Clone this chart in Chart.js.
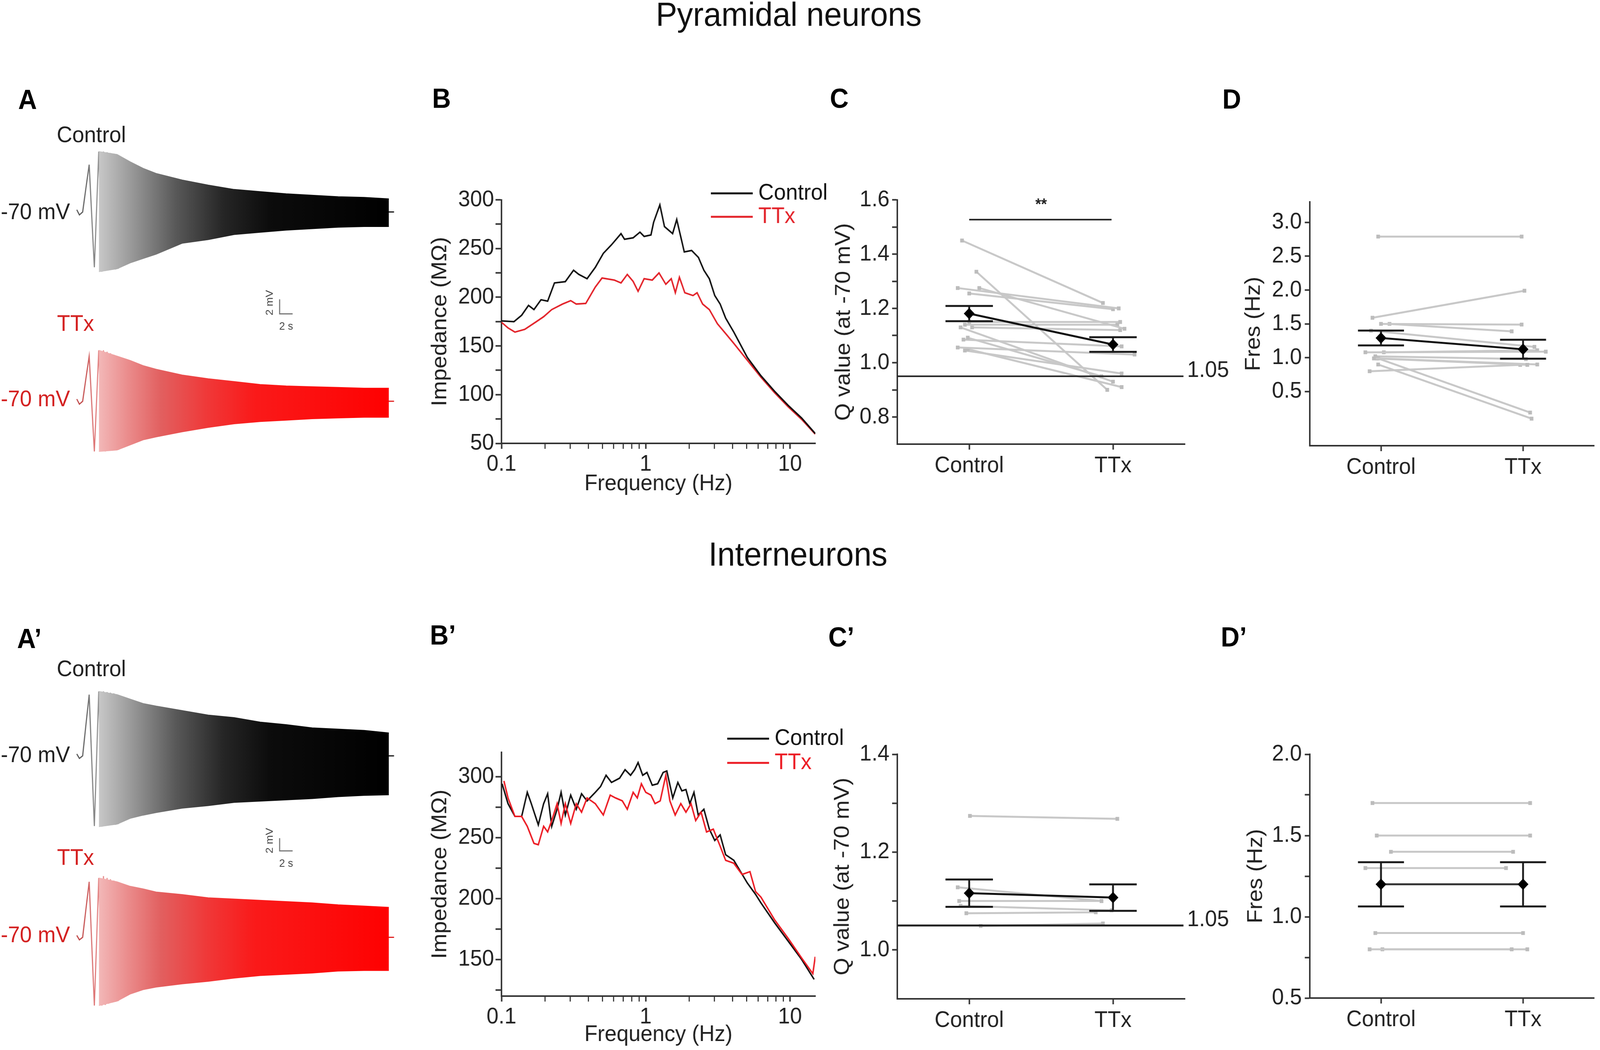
<!DOCTYPE html>
<html>
<head>
<meta charset="utf-8">
<title>Pyramidal neurons / Interneurons</title>
<script src="https://cdn.jsdelivr.net/npm/chart.js@4.4.1/dist/chart.umd.min.js"></script>
<style>
  html, body { margin: 0; padding: 0; background: #fff; overflow: hidden; }
  body { font-family: "Liberation Sans", Arial, sans-serif; color: #222; }
  #fig { position: absolute; left: 0; top: 0; width: 4317px; height: 2688px; transform-origin: 0 0; background: #fff; }
  canvas { position: absolute; }
  .lbl { position: absolute; white-space: nowrap; line-height: 1; font-size: 58px; transform: translateY(-50%); }
  .ttl { position: absolute; white-space: nowrap; line-height: 1; font-size: 86px; transform: translate(-50%, -50%); color: #111; }
  .pl { position: absolute; white-space: nowrap; line-height: 1; font-size: 70px; font-weight: bold; color: #000; transform: translateY(-50%); }
  .red { color: #d42222; }
</style>
</head>
<body>
<div id="fig">

<div class="ttl" style="left:2128px;top:36px">Pyramidal neurons</div>
<div class="ttl" style="left:2153px;top:1418px">Interneurons</div>

<div class="pl" style="left:49px;top:255px">A</div>
<div class="pl" style="left:1166px;top:252px">B</div>
<div class="pl" style="left:2239px;top:252px">C</div>
<div class="pl" style="left:3298px;top:254px">D</div>
<div class="pl" style="left:46px;top:1635px">A’</div>
<div class="pl" style="left:1160px;top:1626px">B’</div>
<div class="pl" style="left:2235px;top:1631px">C’</div>
<div class="pl" style="left:3294px;top:1631px">D’</div>

<div class="lbl" style="left:153px;top:344px">Control</div>
<div class="lbl" style="left:2px;top:541px">-70 mV</div>
<div class="lbl red" style="left:154px;top:827px">TTx</div>
<div class="lbl red" style="left:2px;top:1020px">-70 mV</div>

<div class="lbl" style="left:153px;top:1711px">Control</div>
<div class="lbl" style="left:2px;top:1931px">-70 mV</div>
<div class="lbl red" style="left:154px;top:2194px">TTx</div>
<div class="lbl red" style="left:2px;top:2392px">-70 mV</div>

<canvas id="cA"  width="880"  height="820" style="left:200px;top:360px"></canvas>
<canvas id="cA2" width="880"  height="882" style="left:200px;top:1739px"></canvas>
<canvas id="cC"  width="1087" height="817" style="left:2238px;top:440px"></canvas>
<canvas id="cD"  width="973"  height="811" style="left:3344px;top:450px"></canvas>
<canvas id="cC2" width="1090" height="817" style="left:2235px;top:1860px"></canvas>
<canvas id="cD2" width="967"  height="815" style="left:3350px;top:1860px"></canvas>
<canvas id="cB"  width="1121" height="848" style="left:1149px;top:430px"></canvas>
<canvas id="cB2" width="1171" height="848" style="left:1149px;top:1840px"></canvas>

</div>

<script>
// ---------- A / A' : chirp responses, time in s, mV relative to -70 mV ----------
const envT = [2.5, 5.3, 7.3, 9.3, 11.3, 15.3, 19.3, 23.3, 27.3, 31.3, 35.3, 39.3, 43.3, 47.1];
const pyrCtlUp  = [8.3, 7.9, 6.9, 6.0, 5.3, 4.4, 3.7, 3.1, 2.8, 2.5, 2.3, 2.1, 2.0, 1.8];
const pyrCtlLow = [-8.2, -7.8, -7.0, -6.4, -5.8, -4.3, -3.8, -3.1, -2.8, -2.5, -2.3, -2.1, -2.0, -2.0];
const pyrTtxUp  = [7.0, 6.2, 5.6, 4.9, 4.4, 3.6, 3.1, 2.7, 2.3, 2.1, 2.0, 1.9, 1.8, 1.8];
const pyrTtxLow = [-6.9, -6.7, -6.0, -5.3, -4.9, -4.2, -3.6, -3.1, -2.8, -2.6, -2.4, -2.3, -2.2, -2.2];
const intCtlUp  = [10.1, 9.6, 8.9, 8.2, 7.8, 7.1, 6.4, 6.0, 5.3, 4.9, 4.4, 4.2, 4.0, 3.6];
const intCtlLow = [-11.1, -10.7, -9.8, -9.3, -8.9, -8.2, -7.8, -7.3, -7.1, -6.9, -6.7, -6.4, -6.2, -6.1];
const intTtxUp  = [9.3, 8.7, 8.0, 7.6, 7.1, 6.7, 6.2, 6.0, 5.8, 5.6, 5.4, 5.1, 4.9, 4.7];
const intTtxLow = [-10.7, -10.0, -8.9, -8.2, -7.8, -7.3, -6.9, -6.4, -6.0, -5.8, -5.6, -5.3, -5.2, -5.2];

// first, slow cycles of the chirp (peaks / troughs)
const cycT = [-0.9, -0.5, 0, 1.0, 1.8, 2.48, 2.96, 3.2, 3.48, 3.76, 4.0, 4.28, 4.56, 4.8, 5.04, 5.28, 5.48];
const pyrCtlCyc = [0.3, -0.4, 0, 6.5, -7.6, 8.3, -8.2, 8.3, -8.1, 8.2, -8.0, 8.1, -7.9, 8.0, -7.9, 7.9, -7.8];
const pyrTtxCyc = [0.3, -0.4, 0, 6.2, -6.9, 7.0, -6.9, 7.0, -6.9, 6.8, -6.8, 6.6, -6.8, 6.4, -6.7, 6.2, -6.7];
const intCtlCyc = [0.3, -0.4, 0, 9.6, -11.0, 10.1, -11.1, 10.1, -11.0, 10.0, -10.9, 9.9, -10.8, 9.8, -10.8, 9.6, -10.7];
const intTtxCyc = [0.3, -0.4, 0, 8.7, -10.7, 9.3, -10.7, 9.6, -10.6, 9.3, -10.4, 9.1, -10.2, 8.9, -10.1, 8.7, -10.0];
const tailT = [46.9, 47.9];

// ---------- B / B' : impedance profiles ----------
const bCtlF = [0.1, 0.122, 0.138, 0.154, 0.168, 0.188, 0.209, 0.233, 0.277, 0.316, 0.344, 0.392, 0.447, 0.508, 0.579, 0.674, 0.713, 0.818, 0.912, 0.975, 1.087, 1.134, 1.253, 1.349, 1.536, 1.64, 1.85, 2.08, 2.32, 2.53, 2.76, 3.01, 3.28, 3.58, 4.08, 5.06, 6.29, 7.82, 9.71, 12.05, 14.96];
const bCtlZ = [175.7, 174.9, 181.5, 191.6, 187.3, 197.4, 196, 214.7, 216, 227.7, 223.4, 219, 230.6, 245, 253.8, 265.3, 259.5, 261, 266.8, 262.4, 263.9, 276.9, 294.8, 272.5, 265.3, 279.8, 246.5, 248, 240.8, 227.7, 219, 201.7, 193, 178.6, 164.2, 138.2, 119.4, 103.5, 89, 76, 60.1];
const bTtxF = [0.1, 0.111, 0.124, 0.145, 0.172, 0.196, 0.223, 0.265, 0.302, 0.330, 0.384, 0.447, 0.498, 0.605, 0.674, 0.745, 0.818, 0.885, 0.975, 1.110, 1.236, 1.378, 1.503, 1.604, 1.712, 1.866, 2.127, 2.27, 2.48, 2.76, 3.14, 3.58, 4.08, 5.06, 6.29, 7.82, 9.71, 12.05, 14.96];
const bTtxZ = [174.3, 168.5, 164.2, 167, 174.3, 180, 187.3, 193, 196.5, 193, 193.6, 210.4, 219.7, 217.6, 214.7, 223.4, 216.2, 206.1, 219, 217.6, 224.9, 213.3, 219, 204.6, 220.5, 204.6, 201.7, 204.6, 193, 187.3, 172.8, 162.7, 152.6, 135.3, 117.9, 102, 87.6, 74.6, 59.5];

const b2CtlF = [0.101, 0.111, 0.124, 0.138, 0.151, 0.161, 0.180, 0.196, 0.209, 0.223, 0.243, 0.259, 0.277, 0.302, 0.330, 0.359, 0.392, 0.447, 0.486, 0.531, 0.579, 0.659, 0.719, 0.785, 0.838, 0.885, 0.953, 1.02, 1.11, 1.21, 1.32, 1.40, 1.54, 1.67, 1.78, 1.90, 2.02, 2.16, 2.31, 2.53, 2.76, 3.01, 3.28, 3.58, 4.08, 5.06, 5.77, 6.29, 7.82, 9.71, 12.05, 14.7];
const b2CtlZ = [294.2, 277.9, 267.4, 267.4, 287.2, 277.9, 260.5, 277.9, 286, 259.3, 273.3, 287.2, 268.6, 284.9, 273.3, 286, 280.2, 287.2, 291.9, 301.2, 295.3, 298.8, 305.8, 301.2, 305.8, 311.6, 301.2, 303.5, 293, 294.2, 303.5, 304.7, 282.6, 295.3, 288.4, 289.5, 277.9, 287.2, 268.6, 273.3, 257, 247.7, 252.3, 236, 231.4, 212.8, 203.5, 196.5, 180.2, 165.1, 150, 133.7];
const b2TtxF = [0.104, 0.111, 0.124, 0.138, 0.151, 0.168, 0.180, 0.196, 0.209, 0.223, 0.243, 0.259, 0.277, 0.302, 0.330, 0.359, 0.392, 0.447, 0.508, 0.567, 0.617, 0.688, 0.745, 0.818, 0.874, 0.933, 1.0, 1.087, 1.16, 1.26, 1.378, 1.47, 1.60, 1.75, 1.90, 2.06, 2.22, 2.42, 2.64, 2.94, 3.28, 3.58, 4.08, 4.65, 5.28, 5.77, 6.29, 7.82, 9.71, 12.05, 14.4, 14.96];
const b2TtxZ = [296.5, 282.6, 267.4, 267.4, 259.3, 245.3, 244.2, 259.3, 254.7, 264, 277.9, 261.6, 277.9, 261.6, 277.9, 270.9, 282.6, 277.9, 268.6, 284.9, 282.6, 280.2, 273.3, 287.2, 282.6, 294.2, 287.2, 284.9, 277.9, 280.2, 301.2, 280.2, 268.6, 277.9, 270.9, 277.9, 264, 270.9, 254.7, 257, 243, 231.4, 229, 219.8, 222.1, 205.8, 201.2, 182.6, 167.4, 151.2, 138.4, 152.3];

// ---------- C, D, C', D' : paired cells (value + jittered x) ----------
const groups = ['Control', 'TTx'];
const cCtl  = [1.45, 1.335, 1.275, 1.275, 1.255, 1.14, 1.13, 1.092, 1.085, 1.056, 1.05, 1.045, 1.13, 1.15];
const cCtlX = [0.95, 1.05, 0.92, 1.07, 1.0, 0.97, 1.02, 0.99, 0.96, 0.92, 0.99, 0.97, 0.94, 1.0];
const cTtx  = [1.22, 0.90, 1.20, 1.125, 1.197, 1.14, 1.12, 0.95, 1.06, 1.03, 0.91, 0.96, 0.93, 1.15];
const cTtxX = [1.93, 1.96, 2.04, 2.08, 2.0, 2.03, 2.05, 1.92, 2.06, 2.15, 2.06, 2.06, 2.0, 2.05];
const cMean = [1.181, 1.067];
const cSem  = [0.028, 0.027];

const dCtl  = [2.79, 1.59, 1.50, 1.50, 1.40, 1.08, 1.08, 0.99, 0.99, 0.99, 0.90, 0.80, 1.02];
const dCtlX = [0.98, 0.94, 1.0, 1.06, 0.93, 0.89, 1.02, 0.95, 0.97, 0.98, 0.98, 0.92, 0.96];
const dTtx  = [2.79, 1.99, 1.49, 1.39, 1.16, 1.09, 1.11, 0.895, 0.90, 0.19, 0.10, 0.895, 0.98];
const dTtxX = [1.99, 2.01, 1.99, 1.92, 2.08, 2.16, 2.10, 2.03, 2.10, 2.05, 2.06, 1.98, 2.02];
const dMean = [1.292, 1.125];
const dSem  = [0.11, 0.14];

const c2Ctl  = [1.274, 1.128, 1.10, 1.075, 1.09, 1.049];
const c2CtlX = [1.005, 0.92, 0.93, 0.98, 0.94, 1.08];
const c2Ttx  = [1.268, 1.10, 1.10, 1.077, 1.081, 1.054];
const c2TtxX = [2.03, 1.92, 1.92, 1.88, 1.99, 1.93];
const c2Mean = [1.116, 1.107];
const c2Sem  = [0.028, 0.027];

const d2Ctl  = [1.70, 1.50, 1.40, 1.30, 0.90, 0.80, 0.80];
const d2CtlX = [0.94, 0.97, 1.07, 0.89, 0.96, 0.92, 1.01];
const d2Ttx  = [1.70, 1.50, 1.40, 1.30, 0.90, 0.80, 0.80];
const d2TtxX = [2.05, 2.05, 1.93, 1.88, 2.0, 1.92, 2.03];
const d2Mean = [1.20, 1.20];
const d2Sem  = [0.136, 0.136];

// tick values
const bXTicks  = [0.1, 0.2, 0.3, 0.4, 0.5, 0.6, 0.7, 0.8, 0.9, 1, 2, 3, 4, 5, 6, 7, 8, 9, 10];
const bXLabels = [0.1, 1, 10];
const bYTicks  = [50, 75, 100, 125, 150, 175, 200, 225, 250, 275, 300];
const b2YTicks = [125, 150, 175, 200, 225, 250, 275, 300];
const cYTicks  = [0.8, 0.9, 1.0, 1.1, 1.2, 1.3, 1.4, 1.5, 1.6];
const dYTicks  = [0.5, 1.0, 1.5, 2.0, 2.5, 3.0];
const c2YTicks = [1.0, 1.1, 1.2, 1.3, 1.4];
const d2YTicks = [0.5, 0.75, 1.0, 1.25, 1.5, 1.75, 2.0];

// stretch the 4317 x 2688 figure onto whatever window we actually get
(function fitFigure() {
  const w = document.documentElement.clientWidth || window.innerWidth;
  const h = document.documentElement.clientHeight || window.innerHeight;
  const sx = w / 4317, sy = h / 2688;
  if (sx > 0 && sy > 0 && (Math.abs(sx - 1) > 0.001 || Math.abs(sy - 1) > 0.001)) {
    document.getElementById('fig').style.transform = 'scale(' + sx + ',' + sy + ')';
  }
})();

// ---------------------------------------------------------------------------
const FONT = '"Liberation Sans", Arial, sans-serif';
Chart.defaults.font.family = FONT;
Chart.defaults.font.size = 58;
Chart.defaults.color = '#222';
Chart.defaults.animation = false;
Chart.defaults.plugins.legend.display = false;
Chart.defaults.plugins.tooltip.enabled = false;
Chart.defaults.elements.point.radius = 0;
Chart.defaults.elements.line.tension = 0;

// text drawn at data coordinates
const notesPlugin = {
  id: 'notes',
  afterDatasetsDraw(chart, args, opts) {
    const ctx = chart.ctx, xs = chart.scales.x, ys = chart.scales.y;
    (opts.items || []).forEach(n => {
      ctx.save();
      ctx.font = n.font || ('58px ' + FONT);
      ctx.fillStyle = n.color || '#222';
      ctx.textAlign = n.align || 'center';
      ctx.textBaseline = 'middle';
      ctx.translate(xs.getPixelForValue(n.x) + (n.dx || 0), ys.getPixelForValue(n.y) + (n.dy || 0));
      if (n.rot) ctx.rotate(n.rot);
      ctx.fillText(n.text, 0, 0);
      ctx.restore();
    });
  }
};

// line-sample legend, placed from the chart area corner
const lineLegend = {
  id: 'lineLegend',
  afterDraw(chart, args, o) {
    const ctx = chart.ctx, a = chart.chartArea;
    chart.data.datasets.forEach((d, i) => {
      if (!d.label) return;
      const y = a.top + o.dy + i * o.gap;
      ctx.save();
      ctx.strokeStyle = d.borderColor;
      ctx.lineWidth = 5;
      ctx.beginPath();
      ctx.moveTo(a.right + o.x1, y);
      ctx.lineTo(a.right + o.x2, y);
      ctx.stroke();
      ctx.fillStyle = d.borderColor;
      ctx.font = '58px ' + FONT;
      ctx.textBaseline = 'middle';
      ctx.fillText(d.label, a.right + o.tx, y);
      ctx.restore();
    });
  }
};

function grad(stops) {
  return c => {
    const ch = c.chart;
    if (!ch.chartArea) return stops[stops.length - 1][1];
    const xs = ch.scales.x;
    const g = ch.ctx.createLinearGradient(xs.getPixelForValue(0), 0, xs.getPixelForValue(48), 0);
    stops.forEach(s => g.addColorStop(s[0], s[1]));
    return g;
  };
}

const blackFill = [[0, '#dadada'], [0.06, '#c4c4c4'], [0.15, '#9c9c9c'], [0.3, '#585858'], [0.45, '#262626'], [0.6, '#0c0c0c'], [1, '#000']];
const blackCyc  = [[0, '#5a5a5a'], [0.04, '#8a8a8a'], [0.12, '#a4a4a4']];
const redFill   = [[0, '#f6cccc'], [0.06, '#f2b4b4'], [0.15, '#ea8a8a'], [0.25, '#e26060'], [0.4, '#f03838'], [0.55, '#fa1a1a'], [1, '#ff0000']];
const redCyc    = [[0, '#c04848'], [0.04, '#e07a7a'], [0.12, '#eca0a0']];

function traceSets(up, low, cyc, off, fillStops, cycStops, endColor) {
  return [
    { data: envT.map((t, i) => ({ x: t, y: up[i] + off })), borderColor: grad(fillStops), backgroundColor: grad(fillStops), borderWidth: 2, fill: '+1' },
    { data: envT.map((t, i) => ({ x: t, y: low[i] + off })), borderColor: grad(fillStops), borderWidth: 2, fill: false },
    { data: cycT.map((t, i) => ({ x: t, y: cyc[i] + off })), borderColor: grad(cycStops), borderWidth: 3, fill: false },
    { data: tailT.map(t => ({ x: t, y: off })), borderColor: endColor, borderWidth: 3, fill: false }
  ];
}

function scaleBar(t0, v0) {
  return { data: [{ x: t0, y: v0 }, { x: t0, y: v0 - 2 }, { x: t0 + 2, y: v0 - 2 }], borderColor: '#777', borderWidth: 3, fill: false };
}

function traceChart(id, sets, xr, yr, bar) {
  new Chart(document.getElementById(id), {
    type: 'line',
    data: { datasets: sets.concat([scaleBar(bar[0], bar[1])]) },
    options: {
      responsive: false, devicePixelRatio: 1,
      layout: { padding: 0 },
      scales: {
        x: { type: 'linear', min: xr[0], max: xr[1], display: false },
        y: { type: 'linear', min: yr[0], max: yr[1], display: false }
      },
      plugins: {
        notes: { items: [
          { text: '2 mV', x: bar[0], y: bar[1] - 1, dx: -26, dy: -10, rot: -Math.PI / 2, font: '28px ' + FONT, color: '#444' },
          { text: '2 s', x: bar[0] + 1, y: bar[1] - 2, dy: 33, font: '28px ' + FONT, color: '#444' }
        ] }
      }
    },
    plugins: [notesPlugin]
  });
}

// A: pyramidal traces (TTx trace drawn 26 mV lower), A': interneurons (28.4 mV lower)
traceChart('cA',
  traceSets(pyrCtlUp, pyrCtlLow, pyrCtlCyc, 0, blackFill, blackCyc, '#111')
    .concat(traceSets(pyrTtxUp, pyrTtxLow, pyrTtxCyc, -26, redFill, redCyc, '#e02020')),
  [-1.31, 48.86], [-34.2, 9.8], [30.3, -12.0]);
traceChart('cA2',
  traceSets(intCtlUp, intCtlLow, intCtlCyc, 0, blackFill, blackCyc, '#111')
    .concat(traceSets(intTtxUp, intTtxLow, intTtxCyc, -28.44, redFill, redCyc, '#e02020')),
  [-1.31, 48.86], [-42, 12], [30.3, -12.9]);

// ---------- axes helpers ----------
function axisY(o) {
  return {
    type: o.type || 'linear', min: o.min, max: o.max, position: 'left',
    afterBuildTicks: s => { s.ticks = o.ticks.map(v => ({ value: v })); },
    afterFit: s => { s.width = o.w; },
    ticks: { padding: o.pad, autoSkip: false, color: '#222', callback: o.fmt },
    grid: { drawOnChartArea: false, drawTicks: true, tickLength: o.tl, tickWidth: 4, tickColor: '#333' },
    border: { display: true, color: '#333', width: 4 },
    title: { display: true, text: o.title, color: '#222', padding: { top: 4, bottom: 4 } }
  };
}
function axisX(o) {
  return {
    type: o.type || 'linear', min: o.min, max: o.max, position: 'bottom',
    afterBuildTicks: s => { s.ticks = o.ticks.map(v => ({ value: v })); },
    afterFit: s => { s.height = o.h; },
    ticks: { padding: o.pad, autoSkip: false, maxRotation: 0, color: '#222', callback: o.fmt },
    grid: { drawOnChartArea: false, drawTicks: true, tickLength: o.tl, tickWidth: o.tw || 4, tickColor: '#333' },
    border: { display: true, color: '#333', width: 4 },
    title: { display: !!o.title, text: o.title || '', color: '#222', padding: { top: 4, bottom: 4 } }
  };
}

// ---------- B / B' ----------
function zip(f, z) { return f.map((v, i) => ({ x: v, y: z[i] })); }

function impChart(id, sets, yMin, yMax, yTicks, pad, legend, xh) {
  new Chart(document.getElementById(id), {
    type: 'line',
    data: { datasets: sets },
    options: {
      responsive: false, devicePixelRatio: 1,
      layout: { padding: pad },
      scales: {
        x: axisX({ type: 'logarithmic', min: 0.1, max: 15, ticks: bXTicks, h: xh, pad: 5, tl: 14,
          tw: c => (bXLabels.includes(c.tick && c.tick.value) ? 4 : 3),
          fmt: v => (bXLabels.includes(v) ? String(v) : ''), title: 'Frequency (Hz)' }),
        y: axisY({ min: yMin, max: yMax, ticks: yTicks, w: 204, pad: 4, tl: 16,
          fmt: v => (v % 50 === 0 ? String(v) : ''), title: 'Impedance (MΩ)' })
      },
      plugins: { lineLegend: legend }
    },
    plugins: [lineLegend]
  });
}

impChart('cB', [
  { label: 'Control', data: zip(bCtlF, bCtlZ), borderColor: '#111', borderWidth: 4, order: 0 },
  { label: 'TTx', data: zip(bTtxF, bTtxZ), borderColor: '#e3242b', borderWidth: 4, order: 1 }
], 50, 300, bYTicks, { top: 81.5, right: 70, bottom: 0, left: 0 }, { x1: -282, x2: -169, tx: -154, dy: -16.5, gap: 60 }, 143);

impChart('cB2', [
  { label: 'Control', data: zip(b2CtlF, b2CtlZ), borderColor: '#111', borderWidth: 4, order: 1 },
  { label: 'TTx', data: zip(b2TtxF, b2TtxZ), borderColor: '#ec1c24', borderWidth: 4, order: 0 }
], 120, 320, b2YTicks, { top: 86, right: 120, bottom: 0, left: 0 }, { x1: -238, x2: -125, tx: -110, dy: -35, gap: 62 }, 138);

// ---------- C, D, C', D' ----------
function pairSets(cv, cx, tv, tx) {
  return cv.map((v, i) => ({
    data: [{ x: cx[i], y: v }, { x: tx[i], y: tv[i] }],
    borderColor: '#c8c8c8', borderWidth: 5,
    pointRadius: 7, pointStyle: 'rect', pointBackgroundColor: '#bcbcbc', pointBorderWidth: 0,
    order: 5
  }));
}
function meanSets(mean, sem, cap, lineColor) {
  const err = [];
  mean.forEach((m, i) => {
    const x = i + 1, hi = m + sem[i], lo = m - sem[i];
    err.push({ x: x - cap, y: hi }, { x: x + cap, y: hi }, { x: x, y: null },
             { x: x, y: hi }, { x: x, y: lo }, { x: x, y: null },
             { x: x - cap, y: lo }, { x: x + cap, y: lo }, { x: x, y: null });
  });
  return [
    { data: err, borderColor: '#1a1a1a', borderWidth: 5, spanGaps: false, order: 1 },
    { data: mean.map((m, i) => ({ x: i + 1, y: m })), borderColor: lineColor, borderWidth: 5,
      pointStyle: 'rectRot', pointRadius: 11, pointBackgroundColor: '#000', pointBorderColor: '#000', order: 0 }
  ];
}
function hline(y, x0, x1, w) {
  return { data: [{ x: x0, y: y }, { x: x1, y: y }], borderColor: '#222', borderWidth: w, order: 2 };
}

function pairChart(id, sets, yo, pad, notes) {
  new Chart(document.getElementById(id), {
    type: 'line',
    data: { datasets: sets },
    options: {
      responsive: false, devicePixelRatio: 1,
      layout: { padding: pad },
      scales: {
        x: axisX({ min: 0.5, max: 2.5, ticks: [1, 2], h: 120, pad: 7, tl: 14, fmt: v => groups[v - 1] }),
        y: axisY(yo)
      },
      plugins: { notes: { items: notes } }
    },
    plugins: [notesPlugin]
  });
}

const evenTenth = v => (Math.round(v * 10) % 2 === 0 ? v.toFixed(1) : '');
const halfStep  = v => (Math.abs(v * 2 - Math.round(v * 2)) < 1e-6 ? v.toFixed(1) : '');

pairChart('cC',
  pairSets(cCtl, cCtlX, cTtx, cTtxX)
    .concat([hline(0.95, 0.5, 2.49, 4), hline(1.527, 1.0, 1.99, 4)])
    .concat(meanSets(cMean, cSem, 0.165, '#111')),
  { min: 0.7, max: 1.6, ticks: cYTicks, w: 183, pad: 7, tl: 14, fmt: evenTenth, title: 'Q value (at -70 mV)' },
  { top: 71.5, right: 128, bottom: 0, left: 0 },
  [{ text: '1.05', x: 2.5, y: 0.95, dx: 6, dy: -14, align: 'left' },
   { text: '**', x: 1.5, y: 1.58, font: 'bold 40px ' + FONT }]);

pairChart('cD',
  pairSets(dCtl, dCtlX, dTtx, dTtxX).concat(meanSets(dMean, dSem, 0.162, '#111')),
  { min: -0.3, max: 3.3, ticks: dYTicks, w: 190.4, pad: 8, tl: 14, fmt: v => v.toFixed(1), title: 'Fres (Hz)' },
  { top: 67.3, right: 9, bottom: 0, left: 0 }, []);

pairChart('cC2',
  pairSets(c2Ctl, c2CtlX, c2Ttx, c2TtxX)
    .concat([hline(1.05, 0.5, 2.49, 5)])
    .concat(meanSets(c2Mean, c2Sem, 0.165, '#111')),
  { min: 0.9, max: 1.4, ticks: c2YTicks, w: 186, pad: 7, tl: 14, fmt: evenTenth, title: 'Q value (at -70 mV)' },
  { top: 71, right: 128, bottom: 0, left: 0 },
  [{ text: '1.05', x: 2.5, y: 1.05, dx: 6, dy: -14, align: 'left' }]);

pairChart('cD2',
  pairSets(d2Ctl, d2CtlX, d2Ttx, d2TtxX).concat(meanSets(d2Mean, d2Sem, 0.162, '#333')),
  { min: 0.5, max: 2.0, ticks: d2YTicks, w: 184.4, pad: 8, tl: 14, fmt: halfStep, title: 'Fres (Hz)' },
  { top: 71, right: 9, bottom: 0, left: 0 }, []);
</script>
</body>
</html>
